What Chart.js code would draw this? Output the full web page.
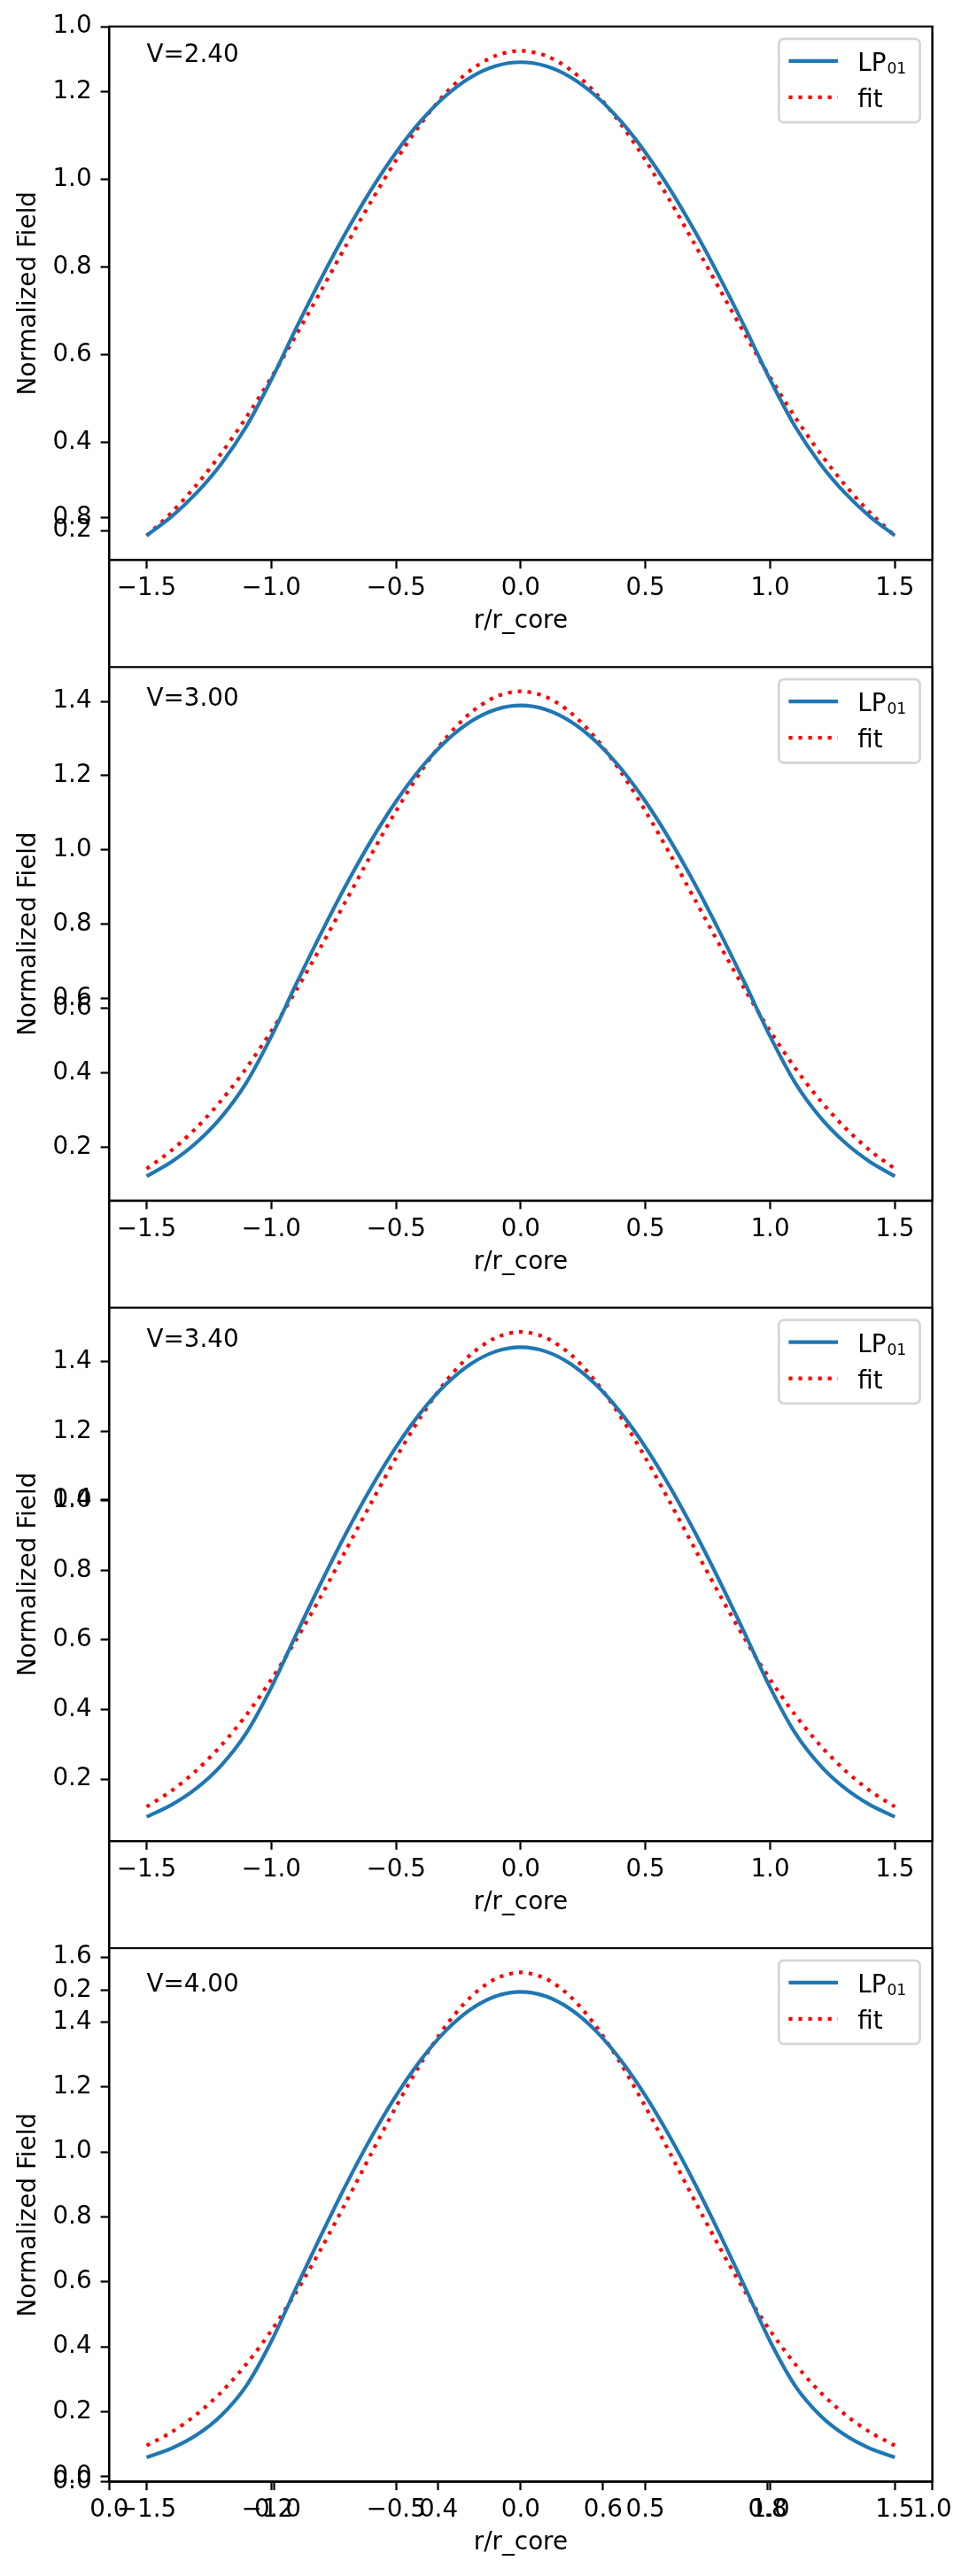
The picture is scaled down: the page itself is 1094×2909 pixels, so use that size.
<!DOCTYPE html>
<html>
<head>
<meta charset="utf-8">
<script src="https://cdn.jsdelivr.net/npm/chart.js@4.4.1/dist/chart.umd.min.js"></script>
<style>
  html, body { margin: 0; padding: 0; background: #fff; }
  #wrap { position: relative; width: 1094px; height: 2909px; background: #fff; }
  #wrap canvas { position: absolute; left: 0; top: 0; }
</style>
</head>
<body>
<div id="wrap">
  <canvas id="bg" width="1094" height="2909"></canvas>
  <canvas id="c0" width="1094" height="2909"></canvas>
  <canvas id="c1" width="1094" height="2909"></canvas>
  <canvas id="c2" width="1094" height="2909"></canvas>
  <canvas id="c3" width="1094" height="2909"></canvas>
</div>
<script>
// r/r_core sample positions
var r = [-1.5, -1.4, -1.3, -1.2, -1.1, -1.0, -0.9, -0.8, -0.7, -0.6, -0.5, -0.4, -0.3, -0.2, -0.1, 0.0,
         0.1, 0.2, 0.3, 0.4, 0.5, 0.6, 0.7, 0.8, 0.9, 1.0, 1.1, 1.2, 1.3, 1.4, 1.5];

var vValues = [2.4, 3.0, 3.4, 4.0];

// LP01 field and gaussian fit
var lp01_24 = [0.1885, 0.2317, 0.2856, 0.3528, 0.4372, 0.5437, 0.6616, 0.7745, 0.8801, 0.9764, 1.0614, 1.1334, 1.1909, 1.2329, 1.2584, 1.2670,
               1.2584, 1.2329, 1.1909, 1.1334, 1.0614, 0.9764, 0.8801, 0.7745, 0.6616, 0.5437, 0.4372, 0.3528, 0.2856, 0.2317, 0.1885];
var fit_24  = [0.1881, 0.2411, 0.3039, 0.3764, 0.4584, 0.5489, 0.6459, 0.7472, 0.8497, 0.9498, 1.0437, 1.1273, 1.1970, 1.2494, 1.2820, 1.2930,
               1.2820, 1.2494, 1.1970, 1.1273, 1.0437, 0.9498, 0.8497, 0.7472, 0.6459, 0.5489, 0.4584, 0.3764, 0.3039, 0.2411, 0.1881];

var lp01_30 = [0.1228, 0.1617, 0.2133, 0.2822, 0.3746, 0.4989, 0.6403, 0.7771, 0.9065, 1.0253, 1.1309, 1.2209, 1.2931, 1.3460, 1.3782, 1.3890,
               1.3782, 1.3460, 1.2931, 1.2209, 1.1309, 1.0253, 0.9065, 0.7771, 0.6403, 0.4989, 0.3746, 0.2822, 0.2133, 0.1617, 0.1228];
var fit_30  = [0.1430, 0.1923, 0.2535, 0.3273, 0.4141, 0.5133, 0.6234, 0.7417, 0.8646, 0.9875, 1.1051, 1.2116, 1.3015, 1.3698, 1.4125, 1.4270,
               1.4125, 1.3698, 1.3015, 1.2116, 1.1051, 0.9875, 0.8646, 0.7417, 0.6234, 0.5133, 0.4141, 0.3273, 0.2535, 0.1923, 0.1430];

var lp01_34 = [0.0914, 0.1259, 0.1735, 0.2400, 0.3328, 0.4634, 0.6164, 0.7656, 0.9074, 1.0382, 1.1550, 1.2548, 1.3351, 1.3940, 1.4299, 1.4420,
               1.4299, 1.3940, 1.3351, 1.2548, 1.1550, 1.0382, 0.9074, 0.7656, 0.6164, 0.4634, 0.3328, 0.2400, 0.1735, 0.1259, 0.0914];
var fit_34  = [0.1204, 0.1664, 0.2251, 0.2975, 0.3847, 0.4864, 0.6013, 0.7271, 0.8597, 0.9940, 1.1240, 1.2428, 1.3439, 1.4211, 1.4695, 1.4860,
               1.4695, 1.4211, 1.3439, 1.2428, 1.1240, 0.9940, 0.8597, 0.7271, 0.6013, 0.4864, 0.3847, 0.2975, 0.2251, 0.1664, 0.1204];

var lp01_40 = [0.0590, 0.0867, 0.1278, 0.1888, 0.2799, 0.4164, 0.5817, 0.7441, 0.8995, 1.0438, 1.1731, 1.2840, 1.3736, 1.4393, 1.4795, 1.4930,
               1.4795, 1.4393, 1.3736, 1.2840, 1.1731, 1.0438, 0.8995, 0.7441, 0.5817, 0.4164, 0.2799, 0.1888, 0.1278, 0.0867, 0.0590];
var fit_40  = [0.0954, 0.1367, 0.1911, 0.2605, 0.3464, 0.4495, 0.5688, 0.7023, 0.8459, 0.9939, 1.1391, 1.2735, 1.3890, 1.4779, 1.5339, 1.5530,
               1.5339, 1.4779, 1.3890, 1.2735, 1.1391, 0.9939, 0.8459, 0.7023, 0.5688, 0.4495, 0.3464, 0.2605, 0.1911, 0.1367, 0.0954];

// tick labels
var xTicks = [-1.5, -1.0, -0.5, 0.0, 0.5, 1.0, 1.5];
var yTicks24 = [0.2, 0.4, 0.6, 0.8, 1.0, 1.2];
var yTicks30 = [0.2, 0.4, 0.6, 0.8, 1.0, 1.2, 1.4];
var yTicks34 = [0.2, 0.4, 0.6, 0.8, 1.0, 1.2, 1.4];
var yTicks40 = [0.0, 0.2, 0.4, 0.6, 0.8, 1.0, 1.2, 1.4, 1.6];
var bgTicks = [0.0, 0.2, 0.4, 0.6, 0.8, 1.0];

var panels = [
  {v: vValues[0], lp: lp01_24, fit: fit_24, yt: yTicks24},
  {v: vValues[1], lp: lp01_30, fit: fit_30, yt: yTicks30},
  {v: vValues[2], lp: lp01_34, fit: fit_34, yt: yTicks34},
  {v: vValues[3], lp: lp01_40, fit: fit_40, yt: yTicks40}
];

// layout (matplotlib 10pt @ 200 dpi)
var W = 1094, H = 2909;
var FS = 27.78, LW = 4.17, SPINE = 2.22;
var axLeft = 123.3, axRight = 1052.5;
var axTops = [30, 753.3, 1476.7, 2200];
var axH = 602.4;
var XAX_H = 110;

Chart.defaults.font.family = 'DejaVu Sans';
Chart.defaults.font.size = FS;
Chart.defaults.color = '#000';

function fmt(v) {
  var s = Math.abs(v).toFixed(1);
  return (v < -1e-9 ? '\u2212' : '') + s;
}

// matplotlib style autoscale: 5% margin on each side
function limits(arrs) {
  var lo = Infinity, hi = -Infinity;
  arrs.forEach(function(a) {
    a.forEach(function(v) { if (v < lo) lo = v; if (v > hi) hi = v; });
  });
  var m = (hi - lo) * 0.05;
  return [lo - m, hi + m];
}

function pts(vals) {
  return r.map(function(x, i) { return {x: x, y: vals[i]}; });
}

function axis(pos, lim, ticks, size, title, tpad, lpad) {
  return {
    type: 'linear',
    position: pos,
    min: lim[0],
    max: lim[1],
    afterBuildTicks: function(s) {
      s.ticks = ticks.map(function(v) { return {value: v}; });
    },
    afterFit: function(s) {
      if (pos === 'left') s.width = size; else s.height = size;
    },
    grid: {display: true, drawOnChartArea: false, drawTicks: true, tickLength: 9.7, tickWidth: SPINE, tickColor: '#000'},
    border: {display: true, color: '#000', width: SPINE},
    ticks: {
      autoSkip: false, maxRotation: 0, minRotation: 0, padding: lpad, color: '#000',
      font: {size: FS},
      callback: function(v) { return fmt(v); }
    },
    title: {display: !!title, text: title || '', color: '#000', font: {size: FS}, padding: tpad}
  };
}

var framePlugin = {
  id: 'frame',
  beforeDraw: function(chart) {
    var o = chart.options.plugins.frame;
    if (!o || !o.fill) return;
    var ca = chart.chartArea, ctx = chart.ctx;
    ctx.save();
    ctx.fillStyle = '#fff';
    ctx.fillRect(ca.left, ca.top, ca.right - ca.left, ca.bottom - ca.top);
    ctx.restore();
  },
  afterDraw: function(chart) {
    var ca = chart.chartArea, ctx = chart.ctx;
    ctx.save();
    ctx.strokeStyle = '#000';
    ctx.lineWidth = SPINE;
    ctx.strokeRect(ca.left, ca.top, ca.right - ca.left, ca.bottom - ca.top);
    ctx.restore();
  }
};

// "V=..." note, placed in data coordinates
var vLabelPlugin = {
  id: 'vLabel',
  afterDatasetsDraw: function(chart) {
    var o = chart.options.plugins.vLabel;
    if (!o || !o.text) return;
    var ctx = chart.ctx;
    var px = chart.scales.x.getPixelForValue(o.x);
    var py = chart.scales.y.getPixelForValue(o.y);
    ctx.save();
    ctx.font = FS + 'px "DejaVu Sans"';
    ctx.fillStyle = '#000';
    ctx.textAlign = 'left';
    ctx.textBaseline = 'alphabetic';
    ctx.fillText(o.text, px, py);
    ctx.restore();
  }
};

// matplotlib-like legend box in the upper right
var legendPlugin = {
  id: 'mplLegend',
  afterDraw: function(chart) {
    var o = chart.options.plugins.mplLegend;
    if (!o || !o.display) return;
    var ctx = chart.ctx, ca = chart.chartArea;
    var pad = 0.5 * FS, bpad = 0.4 * FS, hlen = 2.0 * FS, tpad = 0.8 * FS;
    var bw = 159.3, bh = 94.3;
    var bx = ca.right - pad - bw, by = ca.top + pad;
    ctx.save();
    ctx.beginPath();
    ctx.roundRect(bx, by, bw, bh, 0.2 * FS);
    ctx.fillStyle = 'rgba(255,255,255,0.8)';
    ctx.fill();
    ctx.lineWidth = 2.78;
    ctx.strokeStyle = 'rgba(204,204,204,0.8)';
    ctx.stroke();
    chart.data.datasets.forEach(function(ds, i) {
      var cy = by + 25 + i * 41;
      var hx = bx + bpad;
      ctx.beginPath();
      ctx.setLineDash(ds.borderDash || []);
      ctx.lineCap = 'butt';
      ctx.lineWidth = ds.borderWidth;
      ctx.strokeStyle = ds.borderColor;
      ctx.moveTo(hx, cy);
      ctx.lineTo(hx + hlen, cy);
      ctx.stroke();
      ctx.setLineDash([]);
      var tx = hx + hlen + tpad;
      ctx.fillStyle = '#000';
      ctx.textAlign = 'left';
      ctx.textBaseline = 'alphabetic';
      ctx.font = FS + 'px "DejaVu Sans"';
      ctx.fillText(ds.labelMain, tx, cy + 11);
      if (ds.labelSub) {
        var w = ctx.measureText(ds.labelMain).width;
        ctx.font = (FS * 0.62) + 'px "DejaVu Sans"';
        ctx.fillText(ds.labelSub, tx + w + 1, cy + 14);
      }
    });
    ctx.restore();
  }
};

var xLim = limits([r]);

// background axes spanning the whole figure (0..1 on both axes)
new Chart(document.getElementById('bg'), {
  type: 'scatter',
  data: {datasets: []},
  options: {
    responsive: false, animation: false, devicePixelRatio: 1,
    layout: {padding: {top: axTops[0], left: 0, right: W - axRight, bottom: H - (axTops[3] + axH) - XAX_H}},
    plugins: {legend: {display: false}, tooltip: {enabled: false}},
    scales: {
      x: axis('bottom', [0, 1], bgTicks, XAX_H, '', 0, 6.4),
      y: axis('left', [0, 1], bgTicks, axLeft, '', 0, 10)
    }
  },
  plugins: [framePlugin]
});

panels.forEach(function(p, k) {
  var top = axTops[k];
  var yLim = limits([p.lp, p.fit]);
  new Chart(document.getElementById('c' + k), {
    type: 'line',
    data: {
      datasets: [
        {label: 'LP\u2080\u2081', labelMain: 'LP', labelSub: '01', data: pts(p.lp),
         borderColor: '#1f77b4', borderWidth: LW, pointRadius: 0, tension: 0.3, fill: false},
        {label: 'fit', labelMain: 'fit', data: pts(p.fit),
         borderColor: '#ff0000', borderWidth: LW, borderDash: [LW, LW * 1.65], borderCapStyle: 'butt',
         pointRadius: 0, tension: 0.3, fill: false}
      ]
    },
    options: {
      responsive: false, animation: false, devicePixelRatio: 1,
      layout: {padding: {top: top, left: 0, right: W - axRight, bottom: H - (top + axH) - XAX_H}},
      plugins: {
        legend: {display: false},
        tooltip: {enabled: false},
        frame: {fill: true},
        vLabel: {text: 'V=' + p.v.toFixed(2), x: r[0], y: Math.max.apply(null, p.lp)},
        mplLegend: {display: true}
      },
      scales: {
        x: axis('bottom', xLim, xTicks, XAX_H, 'r/r_core', {top: 0, bottom: 23.6}, 6.4),
        y: axis('left', yLim, p.yt, axLeft, 'Normalized Field', {top: 16.3, bottom: 0}, 10)
      }
    },
    plugins: [framePlugin, vLabelPlugin, legendPlugin]
  });
});
</script>
</body>
</html>
